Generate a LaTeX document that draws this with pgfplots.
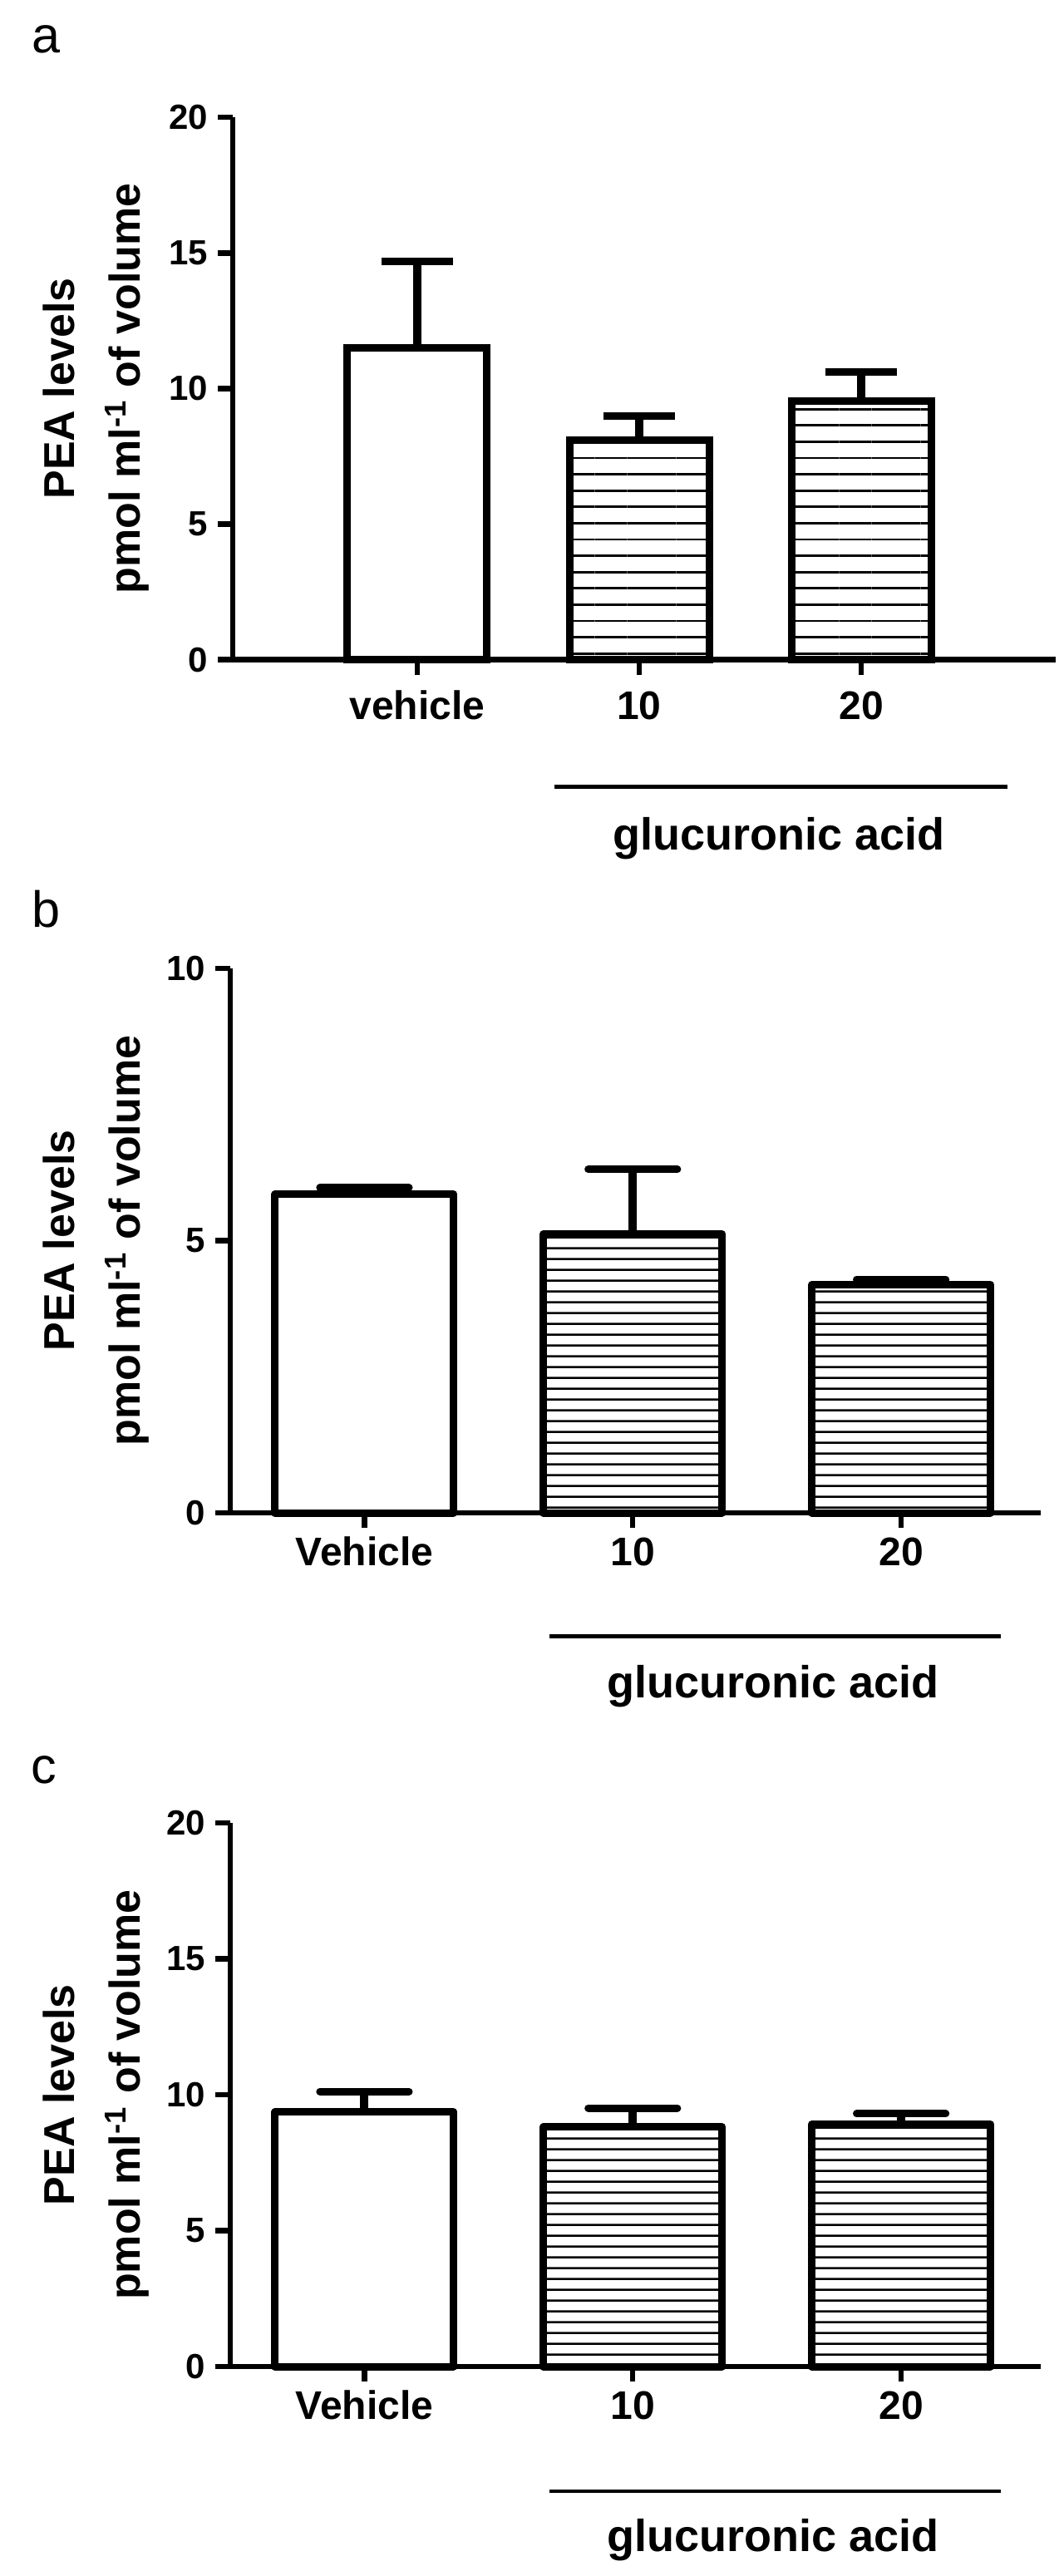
\documentclass[border=0pt]{standalone}
\usepackage{fontspec}
\setmainfont{Liberation Sans}
\usepackage{pgfplots}
\pgfplotsset{compat=1.18}
\usetikzlibrary{patterns.meta}

\pgfplotsset{
  peabase/.style={
    scale only axis,
    axis lines=left,
    axis line style={-, line width=1.6pt, black},
    clip=false,
    ymin=0,
    xtick={1,2,3},
    tick align=outside,
    major tick length=4.5pt,
    tick style={line width=1.6pt, black},
    minor tick num=0,
    /pgf/number format/assume math mode=true,
    yticklabel style={font=\fontsize{10.5}{12}\selectfont\bfseries, inner sep=0pt, xshift=-2.75pt},
    xticklabel style={font=\fontsize{12}{14}\selectfont\bfseries, anchor=base, inner sep=0pt},
    ylabel style={font=\fontsize{13}{19.75}\selectfont\bfseries, align=center, inner sep=0pt, anchor=center},
    ylabel={PEA levels\\pmol ml\textsuperscript{-1} of volume},
  },
  whitebar/.style 2 args={ybar, bar shift=0pt, draw=black, fill=white, line width=2.25pt,
    error bars/y dir=plus, error bars/y explicit,
    error bars/error bar style={line width=2.5pt, black},
    error bars/error mark options={rotate=90, line width=2.25pt, black, mark size=#1, line cap=#2}},
  hatchbar/.style n args={3}{ybar, bar shift=0pt, draw=black, line width=2.25pt,
    pattern={Lines[angle=0, distance=#2, line width=0.68pt]},
    error bars/y dir=plus, error bars/y explicit,
    error bars/error bar style={line width=2.5pt, black},
    error bars/error mark options={rotate=90, line width=2.25pt, black, mark size=#1, line cap=#3}},
}

\begin{document}
\begin{tikzpicture}
\path[use as bounding box] (0pt,0pt) rectangle (319.75pt,-774.75pt);

% panel letters
\node[anchor=base west, inner sep=0pt, font=\fontsize{15.3}{18}\selectfont] at (9.5pt,-15.75pt) {a};
\node[anchor=base west, inner sep=0pt, font=\fontsize{15.3}{18}\selectfont] at (9.5pt,-278.75pt) {b};
\node[anchor=base west, inner sep=0pt, font=\fontsize{15.3}{18}\selectfont] at (9.25pt,-536.25pt) {c};

% ---------------- panel a
\begin{axis}[peabase,
  at={(70pt,-198.4pt)}, anchor=south west,
  width=247.5pt, height=163.1pt,
  xmin=0.169, xmax=3.876, ymax=20,
  ytick={0,5,10,15,20},
  xticklabels={vehicle,10,20},
  xticklabel style={yshift=-13.5pt},
  ylabel style={at={(axis description cs:-0.1657,0.5)}},
]
\addplot[bar width=42pt, whitebar={10.75pt}{butt}] coordinates {(1,11.5) +- (0,3.2)};
\addplot[bar width=42pt, hatchbar={10.75pt}{4.9pt}{butt}] coordinates {(2,8.1) +- (0,0.88) (3,9.55) +- (0,1.05)};
\draw[line width=1.2pt] ([yshift=-38.25pt]axis cs:1.618,0) -- ([yshift=-38.25pt]axis cs:3.659,0);
\node[anchor=base, inner sep=0pt, font=\fontsize{13.5}{16}\selectfont\bfseries] at ([yshift=-57.25pt]axis cs:2.629,0) {glucuronic acid};
\end{axis}

% ---------------- panel b
\begin{axis}[peabase,
  at={(69.25pt,-455pt)}, anchor=south west,
  width=243.75pt, height=163.75pt,
  xmin=0.5, xmax=3.52, ymax=10,
  ytick={0,5,10},
  xticklabels={Vehicle,10,20},
  xticklabel style={yshift=-11.4pt},
  ylabel style={at={(axis description cs:-0.1651,0.5)}},
]
\addplot[bar width=53.75pt, line join=round, whitebar={13.4pt}{round}] coordinates {(1,5.85) +- (0,0.12)};
\addplot[bar width=53.75pt, line join=round, hatchbar={13.4pt}{3.35pt}{round}] coordinates {(2,5.12) +- (0,1.19) (3,4.19) +- (0,0.1)};
\draw[line width=1.05pt] ([yshift=-37.1pt]axis cs:1.69,0) -- ([yshift=-37.1pt]axis cs:3.372,0);
\node[anchor=base, inner sep=0pt, font=\fontsize{13.5}{16}\selectfont\bfseries] at ([yshift=-55.5pt]axis cs:2.523,0) {glucuronic acid};
\end{axis}

% ---------------- panel c
\begin{axis}[peabase,
  at={(69.25pt,-711.75pt)}, anchor=south west,
  width=243.75pt, height=163.5pt,
  xmin=0.5, xmax=3.52, ymax=20,
  ytick={0,5,10,15,20},
  xticklabels={Vehicle,10,20},
  xticklabel style={yshift=-11.4pt},
  ylabel style={at={(axis description cs:-0.1651,0.5)}},
]
\addplot[bar width=53.75pt, line join=round, whitebar={13.4pt}{round}] coordinates {(1,9.36) +- (0,0.76)};
\addplot[bar width=53.75pt, line join=round, hatchbar={13.4pt}{3.35pt}{round}] coordinates {(2,8.81) +- (0,0.7) (3,8.91) +- (0,0.39)};
\draw[line width=1.05pt] ([yshift=-37.5pt]axis cs:1.69,0) -- ([yshift=-37.5pt]axis cs:3.372,0);
\node[anchor=base, inner sep=0pt, font=\fontsize{13.5}{16}\selectfont\bfseries] at ([yshift=-55.5pt]axis cs:2.523,0) {glucuronic acid};
\end{axis}
\end{tikzpicture}
\end{document}
